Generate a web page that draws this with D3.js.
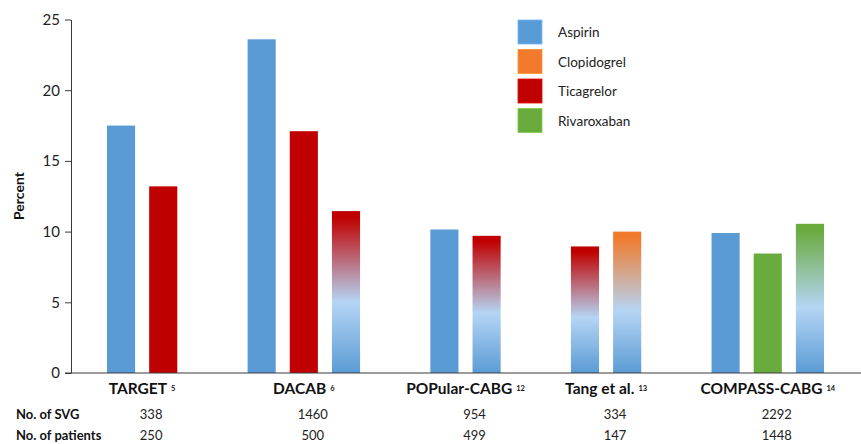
<!DOCTYPE html>
<html>
<head>
<meta charset="utf-8">
<script src="https://cdn.jsdelivr.net/npm/d3@7"></script>
<style>
  html, body { margin: 0; padding: 0; background: #fff; }
  svg { display: block; font-family: Lato, "Open Sans", sans-serif; }
</style>
</head>
<body>
<svg id="chart" width="861" height="444"></svg>
<script>
// ---- data ----
const studies = ["TARGET", "DACAB", "POPular-CABG", "Tang et al.", "COMPASS-CABG"];
const studyRefs = ["5", "6", "12", "13", "14"];
const drugs = ["Aspirin", "Clopidogrel", "Ticagrelor", "Rivaroxaban"];
const barDrugs = [
  ["Aspirin", "Ticagrelor"],
  ["Aspirin", "Ticagrelor", "Ticagrelor+Aspirin"],
  ["Aspirin", "Ticagrelor+Aspirin"],
  ["Ticagrelor+Aspirin", "Clopidogrel+Aspirin"],
  ["Aspirin", "Rivaroxaban", "Rivaroxaban+Aspirin"]
];
const barValues = [
  [17.5, 13.2],
  [23.6, 17.1, 11.45],
  [10.15, 9.7],
  [8.95, 10.0],
  [9.9, 8.45, 10.55]
];
const svgCounts = ["338", "1460", "954", "334", "2292"];
const patientCounts = ["250", "500", "499", "147", "1448"];
const yTicks = [0, 5, 10, 15, 20, 25];
const rowLabels = ["No. of SVG", "No. of patients"];

// ---- styles ----
const colors = {
  "Aspirin": "#5b9bd5",
  "Clopidogrel": "#f27a2c",
  "Ticagrelor": "#c00000",
  "Rivaroxaban": "#6aab3e"
};
const lightBlue = "#b5d5f4";
const axisColor = "#3a3a3a";

const svg = d3.select("#chart");
const defs = svg.append("defs");
drugs.slice(1).forEach(dr => {
  const g = defs.append("linearGradient")
    .attr("id", "grad-" + dr).attr("x1", 0).attr("y1", 0).attr("x2", 0).attr("y2", 1);
  g.append("stop").attr("offset", "0").attr("stop-color", colors[dr]);
  g.append("stop").attr("offset", "0.04").attr("stop-color", colors[dr]);
  g.append("stop").attr("offset", "0.56").attr("stop-color", lightBlue);
  g.append("stop").attr("offset", "1").attr("stop-color", colors["Aspirin"]);
});
function fillFor(key) {
  if (key.includes("+")) return "url(#grad-" + key.split("+")[0] + ")";
  return colors[key];
}

// ---- layout in units: bar = 2, gap inside group = 1, gap between groups = 5 ----
const BAR_U = 2, INNER_U = 1, GROUP_U = 5;
const bars = [];
const groupSpan = [];
let u = 0;
barValues.forEach((vals, gi) => {
  if (gi > 0) u += GROUP_U;
  const start = u;
  vals.forEach((v, bi) => {
    if (bi > 0) u += INNER_U;
    bars.push({ gi, key: barDrugs[gi][bi], value: v, u0: u });
    u += BAR_U;
  });
  groupSpan.push([start, u]);
});

const x = d3.scaleLinear().domain([0, u]).range([107, 824]);
const y = d3.scaleLinear().domain([0, 25]).range([373, 19.5]);
const groupCenter = i => x((groupSpan[i][0] + groupSpan[i][1]) / 2);

// bars
svg.append("g").selectAll("rect").data(bars).join("rect")
  .attr("x", d => x(d.u0))
  .attr("width", d => x(d.u0 + BAR_U) - x(d.u0))
  .attr("y", d => y(d.value))
  .attr("height", d => y(0) - y(d.value))
  .attr("fill", d => fillFor(d.key));

// y axis
const yAxis = svg.append("g").attr("transform", `translate(${71},0)`)
  .call(d3.axisLeft(y).tickValues(yTicks).tickSize(6).tickPadding(5).tickSizeOuter(0));
yAxis.select(".domain").attr("stroke", axisColor);
yAxis.selectAll(".tick line").attr("stroke", axisColor);
yAxis.selectAll(".tick text").attr("font-size", 15).attr("fill", "#222")
  .attr("font-family", "Lato, sans-serif");

// x axis line
svg.append("line").attr("x1", 65).attr("x2", 861).attr("y1", y(0)).attr("y2", y(0))
  .attr("stroke", axisColor).attr("stroke-width", 1.2);

// y title
svg.append("text").attr("transform", "translate(24,196) rotate(-90)")
  .attr("text-anchor", "middle").attr("font-size", 14).attr("font-weight", "bold")
  .attr("fill", "#111").text("Percent");

// category labels
const cat = svg.append("g").selectAll("text").data(studies).join("text")
  .attr("x", (d, i) => groupCenter(i))
  .attr("y", 394)
  .attr("text-anchor", "middle")
  .attr("font-size", 15.5).attr("font-weight", "bold").attr("fill", "#111");
cat.append("tspan").text(d => d);
cat.append("tspan").attr("font-size", 7.5).attr("dx", 4).attr("dy", -3)
  .text((d, i) => studyRefs[i]);

// table rows
const rows = [svgCounts, patientCounts];
const rowY = [419, 440];
rows.forEach((vals, ri) => {
  svg.append("text").attr("x", 16).attr("y", rowY[ri])
    .attr("font-size", 13).attr("font-weight", "bold").attr("fill", "#111")
    .text(rowLabels[ri]);
  svg.append("g").selectAll("text").data(vals).join("text")
    .attr("x", (d, i) => groupCenter(i) + 9)
    .attr("y", rowY[ri])
    .attr("text-anchor", "middle").attr("font-size", 13).attr("fill", "#222")
    .text(d => d);
});

// legend
const leg = svg.append("g").selectAll("g").data(drugs).join("g")
  .attr("transform", (d, i) => `translate(518,${20 + i * 29.5})`);
leg.append("rect").attr("width", 24).attr("height", 24)
  .attr("fill", d => colors[d]).attr("stroke", d => d3.color(colors[d]).brighter(0.5)).attr("stroke-width", 0.8);
leg.append("text").attr("x", 40).attr("y", 17).attr("font-size", 13.5).attr("fill", "#222")
  .text(d => d);
</script>
</body>
</html>
